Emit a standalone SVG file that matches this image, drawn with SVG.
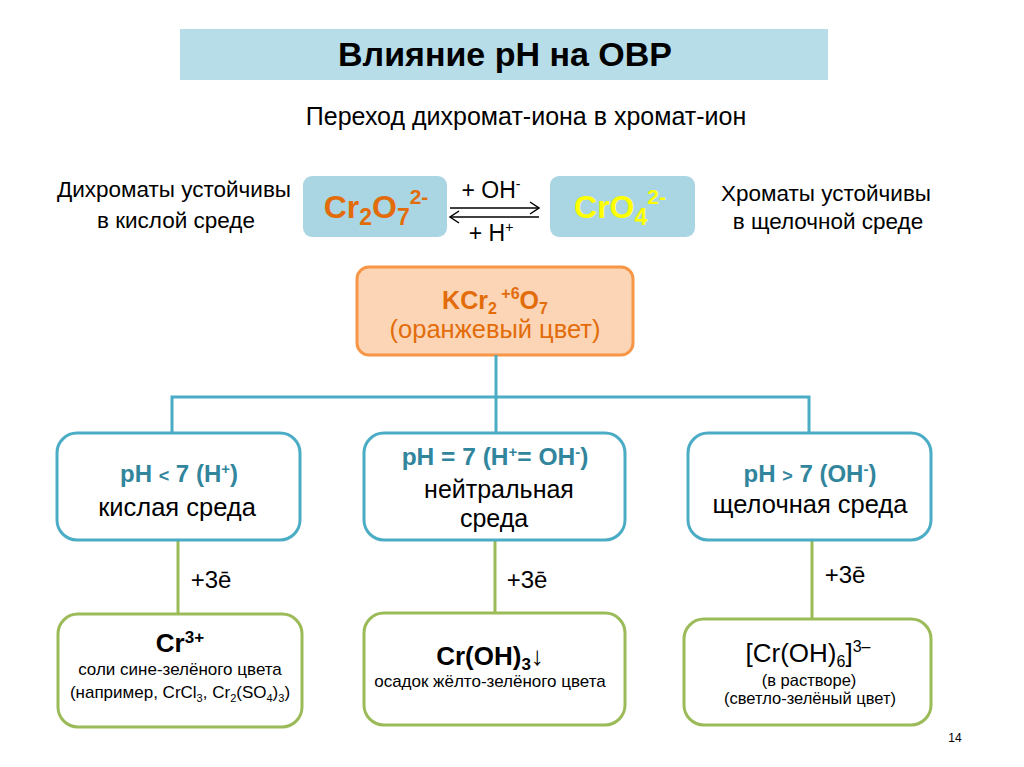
<svg xmlns="http://www.w3.org/2000/svg" width="1024" height="767" viewBox="0 0 1024 767">
<style>
text{font-family:"Liberation Sans",Arial,sans-serif;fill:#000}
.b{font-weight:bold}
.blue{fill:#31859c}
.org{fill:#e36c0a}
.bn{fill:#fff;stroke:#4bacc6;stroke-width:3}
.gn{fill:#fff;stroke:#9bbb59;stroke-width:3}
.bc{stroke:#4bacc6;stroke-width:3;fill:none}
.gc{stroke:#9bbb59;stroke-width:3;fill:none}
.ar{stroke:#000;stroke-width:1.5;fill:none}
</style>
<rect width="1024" height="767" fill="#fff"/>
<g id="title">
<rect x="180" y="29" width="648" height="51" fill="#b7dde8"/>
<text x="505" y="66" font-size="34" class="b" text-anchor="middle">Влияние pH на ОВР</text>
</g>
<text x="526" y="125" font-size="25" text-anchor="middle">Переход дихромат-иона в хромат-ион</text>
<g id="left-note">
<text x="174" y="197" font-size="22.5" text-anchor="middle">Дихроматы устойчивы</text>
<text x="176" y="228" font-size="22.5" text-anchor="middle">в кислой среде</text>
</g>
<g id="right-note">
<text x="826" y="201" font-size="22.5" text-anchor="middle">Хроматы устойчивы</text>
<text x="828" y="229" font-size="22.5" text-anchor="middle">в щелочной среде</text>
</g>
<g id="dichromate">
<rect x="303" y="176" width="144" height="61" rx="9" fill="#a9d6e2"/>
<text x="376" y="218" font-size="32" class="b" text-anchor="middle" style="fill:#e36c0a">Cr<tspan font-size="23" dy="7">2</tspan><tspan dy="-7">O</tspan><tspan font-size="23" dy="7">7</tspan><tspan font-size="21" dy="-21">2-</tspan></text>
</g>
<g id="chromate">
<rect x="550" y="176" width="145" height="61" rx="9" fill="#a9d6e2"/>
<text x="620" y="218" font-size="32" class="b" text-anchor="middle" style="fill:#ffff00">CrO<tspan font-size="23" dy="7">4</tspan><tspan font-size="21" dy="-21">2-</tspan></text>
</g>
<g id="equilibrium">
<line x1="450" y1="208" x2="539" y2="208" class="ar"/>
<polyline points="530,202 539,208 530,214" class="ar"/>
<line x1="450" y1="217" x2="539" y2="217" class="ar"/>
<polyline points="459,211 450,217 459,223" class="ar"/>
<text x="491" y="198" font-size="23" text-anchor="middle">+ OH<tspan font-size="14" dy="-9">-</tspan></text>
<text x="491" y="241" font-size="23" text-anchor="middle">+ H<tspan font-size="14" dy="-9">+</tspan></text>
</g>
<g id="kcr">
<rect x="357" y="267" width="276" height="88" rx="12" fill="#fbd5b5" stroke="#f79646" stroke-width="3"/>
<text x="495" y="309" font-size="25" class="b org" text-anchor="middle">KCr<tspan font-size="16" dy="5">2</tspan><tspan font-size="16" dy="-15"> +6</tspan><tspan dy="10">O</tspan><tspan font-size="16" dy="5">7</tspan></text>
<text x="495" y="338" font-size="25.5" class="org" text-anchor="middle">(оранжевый цвет)</text>
</g>
<g id="connectors">
<path d="M496,355 V433 M172,433 V397 H809 V433" class="bc"/>
<line x1="178" y1="540" x2="178" y2="614" class="gc"/>
<line x1="495" y1="540" x2="495" y2="612" class="gc"/>
<line x1="812" y1="540" x2="812" y2="619" class="gc"/>
<text x="211" y="588" font-size="24" text-anchor="middle">+3ē</text>
<text x="527" y="588" font-size="24" text-anchor="middle">+3ē</text>
<text x="845" y="583" font-size="24" text-anchor="middle">+3ē</text>
</g>
<g id="acid">
<rect x="57" y="433" width="243" height="107" rx="20" class="bn"/>
<text x="179" y="482" font-size="24" class="b blue" text-anchor="middle">pH <tspan font-size="18">&lt;</tspan> 7 (H<tspan font-size="15" dy="-8">+</tspan><tspan dy="8">)</tspan></text>
<text x="177" y="516" font-size="25.5" text-anchor="middle">кислая среда</text>
</g>
<g id="neutral">
<rect x="364" y="433" width="261" height="107" rx="20" class="bn"/>
<text x="495" y="465" font-size="24.5" class="b blue" text-anchor="middle">pH = 7 (H<tspan font-size="15" dy="-8">+</tspan><tspan dy="8">= OH</tspan><tspan font-size="15" dy="-8">-</tspan><tspan dy="8">)</tspan></text>
<text x="499" y="498" font-size="25" text-anchor="middle">нейтральная</text>
<text x="494" y="527" font-size="25" text-anchor="middle">среда</text>
</g>
<g id="alkaline">
<rect x="688" y="433" width="243" height="107" rx="20" class="bn"/>
<text x="810" y="482" font-size="24" class="b blue" text-anchor="middle">pH <tspan font-size="18">&gt;</tspan> 7 (OH<tspan font-size="15" dy="-8">-</tspan><tspan dy="8">)</tspan></text>
<text x="810" y="513" font-size="25.5" text-anchor="middle">щелочная среда</text>
</g>
<g id="cr3">
<rect x="58" y="614" width="244" height="113" rx="20" class="gn"/>
<text x="180" y="652" font-size="26" class="b" text-anchor="middle">Cr<tspan font-size="17" dy="-9">3+</tspan></text>
<text x="180" y="675" font-size="17" text-anchor="middle">соли сине-зелёного цвета</text>
<text x="180" y="698" font-size="17" text-anchor="middle">(например, CrCl<tspan font-size="11" dy="4">3</tspan><tspan dy="-4">,  Cr</tspan><tspan font-size="11" dy="4">2</tspan><tspan dy="-4">(SO</tspan><tspan font-size="11" dy="4">4</tspan><tspan dy="-4">)</tspan><tspan font-size="11" dy="4">3</tspan><tspan dy="-4">)</tspan></text>
</g>
<g id="croh3">
<rect x="364" y="613" width="261" height="112" rx="20" class="gn"/>
<text x="490" y="665" font-size="26" class="b" text-anchor="middle">Cr(OH)<tspan font-size="17" dy="5">3</tspan><tspan dy="-5" font-weight="normal">↓</tspan></text>
<text x="490" y="687" font-size="17" text-anchor="middle">осадок жёлто-зелёного цвета</text>
</g>
<g id="croh6">
<rect x="684" y="619" width="247" height="106" rx="20" class="gn"/>
<text x="808" y="662" font-size="26" text-anchor="middle">[Cr(OH)<tspan font-size="16" dy="5">6</tspan><tspan dy="-5">]</tspan><tspan font-size="16" dy="-10">3–</tspan></text>
<text x="809" y="686" font-size="16.5" text-anchor="middle">(в растворе)</text>
<text x="810" y="704" font-size="16.5" text-anchor="middle">(светло-зелёный цвет)</text>
</g>
<text x="955" y="742" font-size="12" text-anchor="middle">14</text>
</svg>
